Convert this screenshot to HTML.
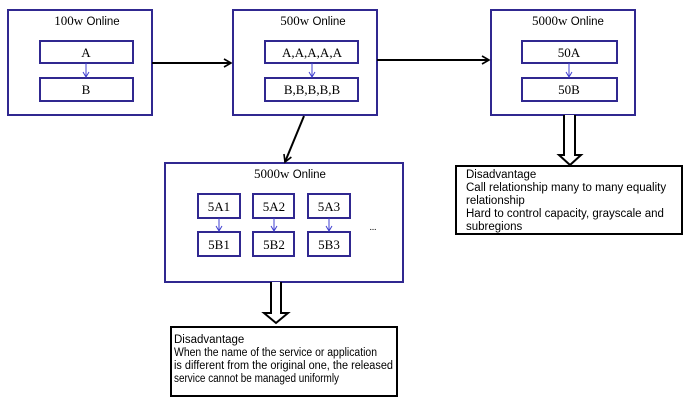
<!DOCTYPE html>
<html><head><meta charset="utf-8"><style>body{margin:0;background:#fff}svg{display:block}
.s{font-family:"Liberation Serif",serif;font-size:13px}
.a{font-family:"Liberation Sans",sans-serif;font-size:11.5px}
</style></head><body>
<svg width="685" height="402" viewBox="0 0 685 402" xmlns="http://www.w3.org/2000/svg">
<defs>
<marker id="k" markerWidth="10" markerHeight="10" refX="8" refY="5" orient="auto" markerUnits="userSpaceOnUse"><path d="M1,1 L8,5 L1,9" fill="none" stroke="#000" stroke-width="1.6"/></marker>
<marker id="b" markerWidth="8" markerHeight="8" refX="6" refY="4" orient="auto" markerUnits="userSpaceOnUse"><path d="M1,1 L6,4 L1,7" fill="none" stroke="#4040d0" stroke-width="1"/></marker>
</defs>
<g fill="none" stroke="#302890" stroke-width="2">
<rect x="8" y="10" width="144" height="105"/>
<rect x="233" y="10" width="144" height="105"/>
<rect x="491" y="10" width="144" height="105"/>
<rect x="165" y="163" width="238" height="119"/>
<rect x="40" y="41" width="93" height="22"/><rect x="40" y="78" width="93" height="23"/>
<rect x="265" y="41" width="93" height="22"/><rect x="265" y="78" width="93" height="23"/>
<rect x="522" y="41" width="95" height="22"/><rect x="522" y="78" width="95" height="23"/>
<rect x="198" y="194" width="42" height="24"/><rect x="198" y="232" width="42" height="24"/>
<rect x="253" y="194" width="41" height="24"/><rect x="253" y="232" width="41" height="24"/>
<rect x="308" y="194" width="42" height="24"/><rect x="308" y="232" width="42" height="24"/>
</g>
<g stroke="#4040d0" stroke-width="1" marker-end="url(#b)">
<line x1="86" y1="63" x2="86" y2="77"/><line x1="312" y1="63" x2="312" y2="77"/><line x1="569" y1="63" x2="569" y2="77"/>
<line x1="219" y1="218" x2="219" y2="231"/><line x1="274" y1="218" x2="274" y2="231"/><line x1="329" y1="218" x2="329" y2="231"/>
</g>
<g stroke="#000" stroke-width="2" marker-end="url(#k)">
<line x1="152" y1="63" x2="231" y2="63"/>
<line x1="377" y1="60" x2="489" y2="60"/>
<line x1="304" y1="116" x2="285" y2="162"/>
</g>
<g fill="#fff" stroke="#000" stroke-width="2">
<path d="M271,282 L271,313 L264,313 L276,323 L288,313 L281,313 L281,282"/>
<path d="M564,115 L564,155 L559,155 L570,165 L581,155 L575,155 L575,115"/>
<rect x="171" y="327" width="226" height="69"/>
<rect x="456" y="166" width="226" height="68"/>
</g>
<g class="s" text-anchor="middle">
<text x="87" y="25">100w <tspan class="a" font-size="13">Online</tspan></text>
<text x="313" y="25">500w <tspan class="a" font-size="13">Online</tspan></text>
<text x="568" y="25">5000w <tspan class="a" font-size="13">Online</tspan></text>
<text x="290" y="178">5000w <tspan class="a" font-size="13">Online</tspan></text>
<text x="86" y="57">A</text><text x="86" y="94">B</text>
<text x="312" y="57">A,A,A,A,A</text><text x="312" y="94">B,B,B,B,B</text>
<text x="569" y="57">50A</text><text x="569" y="94">50B</text>
<text x="219" y="211">5A1</text><text x="219" y="249">5B1</text>
<text x="274" y="211">5A2</text><text x="274" y="249">5B2</text>
<text x="329" y="211">5A3</text><text x="329" y="249">5B3</text>
<text x="373" y="230" font-size="9">...</text>
</g>
<g class="a">
<text x="174" y="343">Disadvantage</text>
<text x="174" y="356" textLength="203" lengthAdjust="spacingAndGlyphs">When the name of the service or application</text>
<text x="174" y="369" textLength="219" lengthAdjust="spacingAndGlyphs">is different from the original one, the released</text>
<text x="174" y="382" textLength="165" lengthAdjust="spacingAndGlyphs">service cannot be managed uniformly</text>
<text x="466" y="178">Disadvantage</text>
<text x="466" y="191">Call relationship many to many equality</text>
<text x="466" y="204">relationship</text>
<text x="466" y="217">Hard to control capacity, grayscale and</text>
<text x="466" y="230">subregions</text>
</g>
</svg>
</body></html>
